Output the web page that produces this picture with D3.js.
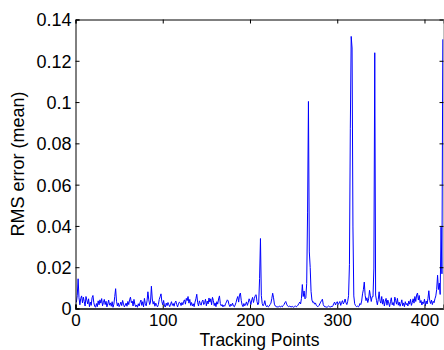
<!DOCTYPE html>
<html>
<head>
<meta charset="utf-8">
<script src="https://cdn.jsdelivr.net/npm/d3@7"></script>
<style>
  html, body { margin: 0; padding: 0; background: #fff; }
  svg { display: block; }
  text { font-family: "Liberation Sans", Arial, Helvetica, sans-serif; fill: #000; }
</style>
</head>
<body>
<svg id="chart" width="444" height="350"></svg>
<script>
// Mean RMS error for each tracking point (points 1..421)
const rmsError = [
  .0030, .0062, .0144, .0052, .0018, .0049, .0061, .0027, .0055, .0034,
  .0012, .0058, .0041, .0022, .0047, .0009, .0031, .0015, .0052, .0063,
  .0028, .0011, .0006, .0024, .0009, .0037, .0018, .0042, .0026, .0048,
  .0013, .0029, .0044, .0019, .0035, .0008, .0022, .0041, .0016, .0027,
  .0011, .0033, .0006, .0021, .0058, .0096, .0035, .0012, .0027, .0009,
  .0018, .0031, .0014, .0039, .0022, .0008, .0015, .0026, .0011, .0034,
  .0019, .0042, .0055, .0028, .0036, .0012, .0044, .0021, .0009, .0017,
  .0006, .0023, .0012, .0029, .0041, .0015, .0033, .0008, .0049, .0024,
  .0013, .0037, .0081, .0042, .0019, .0031, .0108, .0046, .0021, .0034,
  .0011, .0026, .0015, .0008, .0019, .0044, .0057, .0071, .0033, .0018,
  .0039, .0012, .0007, .0026, .0014, .0029, .0018, .0009, .0021, .0033,
  .0015, .0024, .0011, .0028, .0036, .0019, .0008, .0022, .0031, .0027,
  .0014, .0029, .0018, .0035, .0042, .0021, .0049, .0038, .0058, .0026,
  .0044, .0015, .0029, .0012, .0023, .0009, .0031, .0047, .0069, .0028,
  .0012, .0037, .0024, .0016, .0033, .0041, .0019, .0028, .0045, .0013,
  .0036, .0022, .0051, .0031, .0047, .0018, .0054, .0039, .0014, .0027,
  .0009, .0033, .0021, .0046, .0061, .0024, .0013, .0019, .0008, .0016,
  .0011, .0023, .0031, .0042, .0037, .0018, .0009, .0021, .0014, .0026,
  .0012, .0008, .0017, .0029, .0046, .0058, .0031, .0066, .0075, .0038,
  .0017, .0009, .0024, .0013, .0021, .0032, .0015, .0028, .0047, .0036,
  .0019, .0041, .0054, .0029, .0048, .0063, .0067, .0034, .0018, .0027,
  .0145, .0339, .0062, .0024, .0013, .0021, .0038, .0016, .0009, .0014,
  .0007, .0011, .0019, .0026, .0048, .0074, .0052, .0021, .0012, .0008,
  .0010, .0006, .0009, .0012, .0007, .0011, .0008, .0014, .0019, .0028,
  .0034, .0021, .0013, .0009, .0012, .0008, .0011, .0007, .0010, .0006,
  .0009, .0013, .0008, .0011, .0016, .0024, .0031, .0022, .0049, .0116,
  .0058, .0085, .0047, .0052, .0121, .0463, .1003, .0274, .0199, .0083,
  .0041, .0029, .0032, .0021, .0027, .0015, .0011, .0009, .0014, .0022,
  .0031, .0038, .0045, .0019, .0011, .0007, .0009, .0006, .0008, .0012,
  .0009, .0007, .0011, .0008, .0013, .0024, .0031, .0017, .0028, .0033,
  .0019, .0026, .0034, .0015, .0029, .0038, .0022, .0031, .0046, .0028,
  .0019, .0035, .0062, .0214, .0873, .1318, .1262, .0395, .0061, .0023,
  .0014, .0009, .0012, .0008, .0011, .0024, .0019, .0036, .0071, .0092,
  .0128, .0064, .0038, .0052, .0029, .0047, .0088, .0061, .0034, .0057,
  .0057, .0196, .1239, .0065, .0039, .0018, .0043, .0081, .0037, .0026,
  .0058, .0021, .0044, .0012, .0035, .0049, .0016, .0041, .0027, .0009,
  .0033, .0052, .0018, .0029, .0014, .0055, .0038, .0021, .0049, .0016,
  .0031, .0011, .0024, .0042, .0013, .0027, .0009, .0033, .0018, .0025,
  .0012, .0036, .0021, .0044, .0015, .0029, .0047, .0026, .0058, .0034,
  .0066, .0075, .0041, .0063, .0028, .0039, .0017, .0032, .0024, .0045,
  .0014, .0036, .0022, .0049, .0086, .0038, .0024, .0041, .0019, .0035,
  .0028, .0047, .0061, .0093, .0161, .0092, .0123, .0068, .0394, .0168,
  .1304
];
const pointIndex = rmsError.map((_, i) => i + 1);

const xTickValues = [0, 100, 200, 300, 400];
const yTickValues = [0, 0.02, 0.04, 0.06, 0.08, 0.1, 0.12, 0.14];
const yTickLabels = ["0", "0.02", "0.04", "0.06", "0.08", "0.1", "0.12", "0.14"];
const xLabel = "Tracking Points";
const yLabel = "RMS error (mean)";

const svg = d3.select("#chart");
const plotLeft = 75.5, plotRight = 443.5, plotTop = 19.5, plotBottom = 308.5;

const x = d3.scaleLinear().domain([0, 421.8]).range([plotLeft, plotRight]);
const y = d3.scaleLinear().domain([0, 0.14]).range([plotBottom, plotTop]);

// data trace
const line = d3.line()
  .x((d, i) => x(pointIndex[i]))
  .y(d => y(d));

svg.append("path")
  .datum(rmsError)
  .attr("fill", "none")
  .attr("stroke", "#0000ff")
  .attr("stroke-width", 1)
  .attr("stroke-linejoin", "round")
  .attr("d", line);

// axes with inward ticks, MATLAB-style box
const fontSize = 18;
const xTickFont = 17;
const axB = svg.append("g").attr("transform", `translate(0,${plotBottom})`)
  .call(d3.axisBottom(x).tickValues(xTickValues).tickSize(-4).tickPadding(5.5)
    .tickFormat(d3.format("d")));
const axT = svg.append("g").attr("transform", `translate(0,${plotTop})`)
  .call(d3.axisTop(x).tickValues(xTickValues).tickSize(-4).tickFormat(""));
const axL = svg.append("g").attr("transform", `translate(${plotLeft},0)`)
  .call(d3.axisLeft(y).tickValues(yTickValues).tickSize(-4).tickPadding(4)
    .tickFormat((d, i) => yTickLabels[i]));
const axR = svg.append("g").attr("transform", `translate(${plotRight},0)`)
  .call(d3.axisRight(y).tickValues(yTickValues).tickSize(-4).tickFormat(""));

[axB, axT, axL, axR].forEach(g => {
  g.select(".domain").attr("stroke", "#000").attr("stroke-width", 1);
  g.selectAll(".tick line").attr("stroke", "#000");
  g.selectAll("text")
    .attr("font-family", "'Liberation Sans', Arial, sans-serif")
    .attr("font-size", fontSize)
    .attr("fill", "#000");
});
axR.select(".domain").attr("stroke", "#808080");
axB.select(".domain").attr("stroke-width", 1.6);

axL.selectAll(".tick text").attr("dy", "0.36em");
axB.selectAll(".tick text").attr("font-size", xTickFont).attr("dy", "0.72em");

// axis titles
svg.append("text")
  .attr("x", (plotLeft + plotRight) / 2)
  .attr("y", 346.3)
  .attr("text-anchor", "middle")
  .attr("font-size", 17.5)
  .text(xLabel);

svg.append("text")
  .attr("transform", `translate(24,${(plotTop + plotBottom) / 2}) rotate(-90)`)
  .attr("text-anchor", "middle")
  .attr("font-size", fontSize)
  .text(yLabel);
</script>
</body>
</html>
